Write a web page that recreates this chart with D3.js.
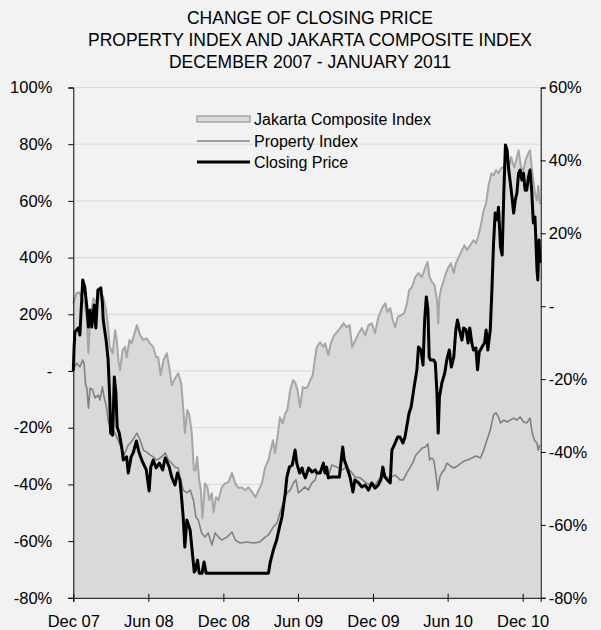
<!DOCTYPE html>
<html>
<head>
<meta charset="utf-8">
<script src="https://cdn.jsdelivr.net/npm/d3@7"></script>
<style>
  body { margin: 0; background: #f2f2f2; }
  svg { display: block; font-family: "Liberation Sans", Arial, sans-serif; }
</style>
</head>
<body>
<div id="chart"></div>
<script>
var titleLines = ["CHANGE OF CLOSING PRICE", "PROPERTY INDEX AND JAKARTA COMPOSITE INDEX", "DECEMBER 2007 - JANUARY 2011"];
var legendLabels = ["Jakarta Composite Index", "Property Index", "Closing Price"];
var leftTicks = [-80, -60, -40, -20, 0, 20, 40, 60, 80, 100];
var rightTicks = [-80, -60, -40, -20, 0, 20, 40, 60];
var dateTicks = ["2007-12-01", "2008-06-01", "2008-12-01", "2009-06-01", "2009-12-01", "2010-06-01", "2010-12-01"];

// Jakarta Composite Index, % change (right axis)
var jci = [
	["2007-12-01", 0.8], ["2007-12-09", 3.6], ["2007-12-15", 3.8], ["2007-12-21", 2.7], ["2007-12-29", 0.8],
	["2008-01-03", -3.8], ["2008-01-07", -12.9], ["2008-01-11", -3.8], ["2008-01-19", 2.2], ["2008-01-27", 0.8],
	["2008-02-04", 3.6], ["2008-02-12", 2.5], ["2008-02-19", -1.1], ["2008-02-24", -5.8], ["2008-02-28", -11.2],
	["2008-03-06", -12.9], ["2008-03-12", -6.6], ["2008-03-16", -9.3], ["2008-03-20", -14.8], ["2008-03-24", -17.6],
	["2008-03-30", -12.1], ["2008-04-05", -11.2], ["2008-04-09", -14.0], ["2008-04-16", -9.3], ["2008-04-21", -10.2],
	["2008-04-27", -8.0], ["2008-05-04", -5.2], ["2008-05-12", -8.0], ["2008-05-20", -9.3], ["2008-05-28", -8.8],
	["2008-06-05", -10.2], ["2008-06-13", -11.2], ["2008-06-20", -14.0], ["2008-06-25", -14.0], ["2008-07-01", -18.9],
	["2008-07-08", -14.8], ["2008-07-16", -12.9], ["2008-07-22", -16.7], ["2008-07-28", -21.7], ["2008-08-05", -19.8],
	["2008-08-13", -18.4], ["2008-08-20", -21.1], ["2008-08-25", -27.7], ["2008-08-29", -34.8], ["2008-09-04", -28.5],
	["2008-09-09", -29.9], ["2008-09-15", -34.8], ["2008-09-20", -45.0], ["2008-09-24", -45.0], ["2008-09-28", -41.4],
	["2008-10-03", -47.7], ["2008-10-07", -50.5], ["2008-10-11", -58.2], ["2008-10-17", -48.6], ["2008-10-23", -49.7],
	["2008-10-28", -53.2], ["2008-11-03", -51.3], ["2008-11-07", -56.5], ["2008-11-13", -52.4], ["2008-11-19", -53.2],
	["2008-11-27", -49.7], ["2008-12-05", -48.6], ["2008-12-13", -48.3], ["2008-12-22", -45.8], ["2008-12-30", -48.6],
	["2009-01-07", -49.9], ["2009-01-15", -49.7], ["2009-01-23", -50.5], ["2009-01-31", -49.7], ["2009-02-09", -51.0],
	["2009-02-17", -52.4], ["2009-02-25", -50.5], ["2009-03-05", -48.6], ["2009-03-13", -44.2], ["2009-03-21", -42.2],
	["2009-03-25", -40.1], ["2009-04-01", -36.8], ["2009-04-06", -40.3], ["2009-04-12", -35.9], ["2009-04-18", -30.5],
	["2009-04-25", -32.1], ["2009-05-01", -29.4], ["2009-05-06", -28.5], ["2009-05-13", -23.0], ["2009-05-20", -20.3],
	["2009-05-25", -20.9], ["2009-05-31", -23.0], ["2009-06-06", -27.7], ["2009-06-13", -22.2], ["2009-06-19", -22.5],
	["2009-06-24", -22.2], ["2009-07-01", -20.3], ["2009-07-07", -18.9], ["2009-07-13", -14.0], ["2009-07-17", -11.2],
	["2009-07-25", -9.9], ["2009-08-02", -11.2], ["2009-08-06", -10.2], ["2009-08-14", -13.4], ["2009-08-20", -10.2],
	["2009-08-28", -8.0], ["2009-09-04", -7.1], ["2009-09-12", -6.0], ["2009-09-20", -4.7], ["2009-09-28", -5.8],
	["2009-10-05", -5.2], ["2009-10-11", -11.2], ["2009-10-19", -9.3], ["2009-10-27", -7.4], ["2009-11-04", -6.0],
	["2009-11-12", -8.0], ["2009-11-20", -5.2], ["2009-11-28", -4.7], ["2009-12-06", -7.4], ["2009-12-14", -3.0],
	["2009-12-23", -0.5], ["2009-12-31", 0.8], ["2010-01-05", -1.6], ["2010-01-12", -0.5], ["2010-01-18", -3.8],
	["2010-01-24", -5.8], ["2010-01-30", -3.0], ["2010-02-07", -2.5], ["2010-02-15", -1.9], ["2010-02-22", 0.8],
	["2010-02-27", 4.4], ["2010-03-06", 5.2], ["2010-03-14", 8.0], ["2010-03-22", 9.1], ["2010-03-30", 8.0],
	["2010-04-08", 10.7], ["2010-04-13", 12.1], ["2010-04-18", 8.0], ["2010-04-24", 6.6], ["2010-04-30", 5.8],
	["2010-05-06", 1.6], ["2010-05-09", -4.7], ["2010-05-12", 2.5], ["2010-05-17", 5.2], ["2010-05-23", 7.1],
	["2010-05-28", 9.1], ["2010-06-03", 10.7], ["2010-06-09", 11.8], ["2010-06-16", 9.1], ["2010-06-21", 11.8],
	["2010-06-28", 13.4], ["2010-07-06", 15.4], ["2010-07-12", 16.7], ["2010-07-18", 15.4], ["2010-07-26", 16.7],
	["2010-08-03", 18.1], ["2010-08-09", 17.3], ["2010-08-14", 18.9], ["2010-08-20", 21.7], ["2010-08-28", 26.3],
	["2010-09-03", 28.3], ["2010-09-09", 33.2], ["2010-09-16", 36.5], ["2010-09-21", 35.9], ["2010-09-27", 37.3],
	["2010-10-03", 36.5], ["2010-10-10", 37.9], ["2010-10-15", 38.1], ["2010-10-21", 40.1], ["2010-10-27", 37.3],
	["2010-11-03", 40.9], ["2010-11-07", 39.2], ["2010-11-11", 38.1], ["2010-11-17", 40.9], ["2010-11-21", 42.8],
	["2010-11-27", 38.1], ["2010-12-03", 37.3], ["2010-12-08", 40.1], ["2010-12-15", 42.0], ["2010-12-19", 42.8],
	["2010-12-23", 38.1], ["2010-12-27", 34.6], ["2010-12-31", 31.0], ["2011-01-05", 29.0], ["2011-01-08", 33.0],
	["2011-01-12", 28.0]
];

// Property Index, % change (left axis)
var property = [
	["2007-12-01", 0.4], ["2007-12-09", 2.8], ["2007-12-17", 1.4], ["2007-12-24", 3.9], ["2007-12-27", 2.8],
	["2007-12-31", -4.9], ["2008-01-03", -6.0], ["2008-01-07", -13.1], ["2008-01-11", -6.0], ["2008-01-17", -6.7],
	["2008-01-23", -9.5], ["2008-01-31", -8.5], ["2008-02-04", -10.2], ["2008-02-10", -5.6], ["2008-02-14", -9.2],
	["2008-02-20", -12.7], ["2008-02-24", -17.3], ["2008-02-28", -20.1], ["2008-03-07", -20.8], ["2008-03-14", -22.6],
	["2008-03-24", -26.1], ["2008-04-03", -29.6], ["2008-04-13", -26.1], ["2008-04-21", -25.0], ["2008-05-04", -21.9],
	["2008-05-12", -24.3], ["2008-05-20", -27.9], ["2008-05-28", -28.6], ["2008-06-05", -29.6], ["2008-06-13", -30.3],
	["2008-06-21", -31.4], ["2008-06-30", -30.7], ["2008-07-08", -29.6], ["2008-07-12", -28.9], ["2008-07-20", -31.4],
	["2008-07-28", -32.5], ["2008-08-05", -33.9], ["2008-08-13", -34.2], ["2008-08-17", -37.4], ["2008-08-25", -42.0],
	["2008-09-03", -43.0], ["2008-09-11", -42.0], ["2008-09-19", -45.5], ["2008-09-25", -51.5], ["2008-10-01", -52.6],
	["2008-10-09", -57.1], ["2008-10-17", -58.6], ["2008-10-25", -57.1], ["2008-11-03", -61.4], ["2008-11-11", -57.1],
	["2008-11-19", -58.6], ["2008-11-27", -59.6], ["2008-12-10", -58.6], ["2008-12-22", -56.8], ["2008-12-30", -59.6],
	["2009-01-11", -60.7], ["2009-01-27", -60.3], ["2009-02-13", -60.7], ["2009-02-28", -60.3], ["2009-03-13", -58.6],
	["2009-03-21", -57.8], ["2009-04-02", -55.0], ["2009-04-11", -53.6], ["2009-04-18", -50.1], ["2009-04-26", -46.6],
	["2009-05-05", -43.0], ["2009-05-13", -42.0], ["2009-05-21", -39.5], ["2009-05-27", -38.4], ["2009-06-02", -43.0],
	["2009-06-10", -42.0], ["2009-06-18", -40.9], ["2009-06-26", -42.0], ["2009-07-05", -39.5], ["2009-07-13", -38.4],
	["2009-07-17", -36.0], ["2009-08-02", -34.9], ["2009-08-14", -37.4], ["2009-08-22", -33.2], ["2009-09-04", -33.9],
	["2009-09-16", -34.9], ["2009-09-28", -33.9], ["2009-10-11", -36.0], ["2009-10-18", -37.4], ["2009-10-31", -37.7],
	["2009-11-12", -39.2], ["2009-11-24", -40.2], ["2009-12-06", -40.2], ["2009-12-18", -37.7], ["2009-12-30", -37.4],
	["2010-01-12", -37.7], ["2010-01-24", -36.7], ["2010-02-05", -38.4], ["2010-02-13", -38.4], ["2010-02-21", -36.0],
	["2010-03-02", -33.9], ["2010-03-09", -32.1], ["2010-03-14", -30.0], ["2010-03-22", -28.6], ["2010-03-31", -27.2],
	["2010-04-08", -26.8], ["2010-04-14", -25.7], ["2010-04-18", -31.4], ["2010-04-23", -30.7], ["2010-04-28", -31.4],
	["2010-05-02", -34.9], ["2010-05-08", -42.0], ["2010-05-13", -37.4], ["2010-05-19", -35.6], ["2010-05-24", -34.9],
	["2010-05-30", -32.5], ["2010-06-08", -33.5], ["2010-06-16", -34.2], ["2010-06-25", -33.5], ["2010-07-04", -32.5],
	["2010-07-12", -31.7], ["2010-07-20", -31.4], ["2010-07-30", -30.7], ["2010-08-10", -30.0], ["2010-08-20", -30.7],
	["2010-08-28", -27.9], ["2010-09-05", -24.3], ["2010-09-13", -20.8], ["2010-09-21", -15.5], ["2010-09-27", -14.8],
	["2010-10-03", -16.2], ["2010-10-08", -18.3], ["2010-10-16", -17.3], ["2010-10-24", -18.0], ["2010-11-01", -17.3],
	["2010-11-09", -16.6], ["2010-11-17", -17.3], ["2010-11-25", -16.2], ["2010-12-03", -18.0], ["2010-12-11", -18.3],
	["2010-12-19", -16.6], ["2010-12-23", -20.8], ["2010-12-27", -23.3], ["2010-12-31", -24.7], ["2011-01-05", -25.4],
	["2011-01-08", -27.9], ["2011-01-12", -26.1]
];

// Closing price, % change (left axis)
var closing = [
	["2007-12-01", 0], ["2007-12-03", 8.5], ["2007-12-05", 13.8], ["2007-12-13", 15.2], ["2007-12-17", 12.7],
	["2007-12-24", 32.1], ["2007-12-29", 29.6], ["2008-01-03", 22.6], ["2008-01-07", 15.5], ["2008-01-11", 21.5],
	["2008-01-15", 15.5], ["2008-01-21", 23.3], ["2008-01-25", 15.2], ["2008-01-30", 28.6], ["2008-02-06", 29.3],
	["2008-02-10", 24.0], ["2008-02-12", 18.0], ["2008-02-19", 10.9], ["2008-02-24", 3.9], ["2008-02-28", -10.2],
	["2008-03-01", -21.9], ["2008-03-06", -22.6], ["2008-03-10", -2.1], ["2008-03-14", -7.8], ["2008-03-17", -19.8],
	["2008-03-22", -21.9], ["2008-03-28", -26.8], ["2008-04-01", -31.4], ["2008-04-09", -30.3], ["2008-04-13", -36.0],
	["2008-04-20", -30.3], ["2008-04-25", -28.9], ["2008-05-03", -24.7], ["2008-05-09", -28.6], ["2008-05-16", -31.4],
	["2008-05-27", -34.9], ["2008-06-03", -42.3], ["2008-06-07", -33.9], ["2008-06-13", -31.4], ["2008-06-20", -34.2],
	["2008-06-28", -32.5], ["2008-07-06", -34.9], ["2008-07-12", -30.7], ["2008-07-17", -32.1], ["2008-07-22", -33.9],
	["2008-07-28", -37.4], ["2008-08-05", -40.2], ["2008-08-11", -36.0], ["2008-08-17", -38.4], ["2008-08-21", -44.4],
	["2008-08-25", -51.5], ["2008-08-29", -62.1], ["2008-09-03", -52.6], ["2008-09-11", -56.1], ["2008-09-15", -62.1],
	["2008-09-21", -70.9], ["2008-09-24", -70.2], ["2008-09-29", -66.7], ["2008-10-03", -71.3], ["2008-10-10", -71.3],
	["2008-10-15", -67.4], ["2008-10-20", -71.3], ["2009-03-21", -71.3], ["2009-03-25", -67.7], ["2009-04-02", -63.1],
	["2009-04-10", -59.6], ["2009-04-17", -55.0], ["2009-04-23", -51.5], ["2009-05-01", -43.0], ["2009-05-05", -37.4],
	["2009-05-11", -33.9], ["2009-05-18", -33.2], ["2009-05-25", -27.9], ["2009-05-29", -32.5], ["2009-06-05", -36.0],
	["2009-06-11", -34.2], ["2009-06-14", -36.0], ["2009-06-19", -37.7], ["2009-06-27", -34.2], ["2009-07-05", -35.6],
	["2009-07-13", -34.9], ["2009-07-17", -36.0], ["2009-07-25", -36.0], ["2009-08-02", -32.5], ["2009-08-06", -36.0],
	["2009-08-10", -33.9], ["2009-08-14", -37.7], ["2009-08-23", -37.4], ["2009-08-30", -37.4], ["2009-09-10", -37.4],
	["2009-09-18", -26.8], ["2009-09-22", -31.4], ["2009-09-28", -33.9], ["2009-10-06", -37.4], ["2009-10-13", -42.7],
	["2009-10-18", -38.4], ["2009-10-27", -39.5], ["2009-11-04", -40.9], ["2009-11-12", -40.2], ["2009-11-20", -42.0],
	["2009-11-28", -39.5], ["2009-12-06", -41.3], ["2009-12-14", -40.2], ["2009-12-20", -38.4], ["2009-12-25", -33.9],
	["2009-12-30", -37.4], ["2010-01-05", -38.4], ["2010-01-12", -39.5], ["2010-01-16", -27.9], ["2010-01-24", -25.4],
	["2010-01-30", -23.3], ["2010-02-05", -23.3], ["2010-02-12", -25.4], ["2010-02-17", -23.3], ["2010-02-21", -19.8],
	["2010-02-27", -14.8], ["2010-03-04", -12.7], ["2010-03-09", -7.8], ["2010-03-14", -3.2], ["2010-03-18", 0.4],
	["2010-03-22", 8.5], ["2010-03-28", 7.4], ["2010-04-02", 2.1], ["2010-04-06", 18.0], ["2010-04-10", 26.1],
	["2010-04-14", 21.5], ["2010-04-17", 4.9], ["2010-04-20", 3.9], ["2010-04-28", 3.9], ["2010-05-02", 2.8],
	["2010-05-06", -7.8], ["2010-05-09", -21.9], ["2010-05-12", -9.2], ["2010-05-18", -4.2], ["2010-05-25", -0.7],
	["2010-05-30", 3.9], ["2010-06-05", 7.4], ["2010-06-10", 1.4], ["2010-06-16", 4.9], ["2010-06-21", 14.5],
	["2010-06-25", 18.0], ["2010-06-30", 14.5], ["2010-07-06", 10.9], ["2010-07-10", 15.2], ["2010-07-16", 14.5],
	["2010-07-21", 9.9], ["2010-07-25", 15.2], ["2010-07-30", 9.9], ["2010-08-03", 7.4], ["2010-08-09", 8.1],
	["2010-08-13", 0.4], ["2010-08-17", 6.7], ["2010-08-24", 8.5], ["2010-08-30", 9.9], ["2010-09-03", 14.5],
	["2010-09-07", 7.4], ["2010-09-13", 14.5], ["2010-09-17", 28.6], ["2010-09-21", 45.1], ["2010-09-25", 55.7],
	["2010-09-30", 53.3], ["2010-10-03", 57.8], ["2010-10-08", 43.7], ["2010-10-12", 40.9], ["2010-10-16", 62.8],
	["2010-10-20", 79.7], ["2010-10-24", 78.0], ["2010-10-28", 70.9], ["2010-11-01", 66.3], ["2010-11-05", 61.4],
	["2010-11-09", 55.7], ["2010-11-13", 60.3], ["2010-11-17", 62.8], ["2010-11-21", 69.8], ["2010-11-25", 70.9],
	["2010-11-29", 67.4], ["2010-12-03", 69.8], ["2010-12-07", 63.8], ["2010-12-11", 63.8], ["2010-12-15", 68.4],
	["2010-12-19", 70.9], ["2010-12-23", 63.8], ["2010-12-27", 52.2], ["2010-12-31", 54.3], ["2011-01-05", 35.6],
	["2011-01-07", 32.1], ["2011-01-10", 46.2], ["2011-01-12", 38.1]
];

var width = 601,
	height = 630,
	plot = {left: 73.3, right: 540.7, top: 87.5, bottom: 597.8};

var parseDate = d3.timeParse("%Y-%m-%d");
var fmtDate = d3.timeFormat("%b %y");

var xScale = d3.scaleTime()
	.domain([parseDate("2007-12-01"), parseDate("2011-01-14")])
	.range([plot.left, plot.right]);
var leftScale = d3.scaleLinear().domain([-80, 100]).range([plot.bottom, plot.top]);
var rightScale = d3.scaleLinear().domain([-80, 60]).range([plot.bottom, plot.top]);

function pct(v) { return v === 0 ? "-" : v + "%"; }

var svg = d3.select("#chart")
	.append("svg")
	.attr("width", width)
	.attr("height", height);

svg.append("rect")
	.attr("width", width)
	.attr("height", height)
	.attr("fill", "#f2f2f2");

// title
svg.selectAll(".title")
	.data(titleLines)
	.enter()
	.append("text")
	.attr("class", "title")
	.attr("x", 310)
	.attr("y", function(d, i) { return 24 + i * 22; })
	.attr("text-anchor", "middle")
	.style("font-size", "17.5px")
	.attr("fill", "#000")
	.text(function(d) { return d; });

// gridlines
svg.append("g")
	.selectAll("line")
	.data(leftTicks.filter(function(d) { return d > -80; }))
	.enter()
	.append("line")
	.attr("x1", plot.left)
	.attr("x2", plot.right)
	.attr("y1", function(d) { return leftScale(d); })
	.attr("y2", function(d) { return leftScale(d); })
	.attr("stroke", "#d9d9d9")
	.attr("stroke-width", 1);

var jciData = jci.map(function(d) { return {date: parseDate(d[0]), value: d[1]}; });
var propData = property.map(function(d) { return {date: parseDate(d[0]), value: d[1]}; });
var closeData = closing.map(function(d) { return {date: parseDate(d[0]), value: d[1]}; });

var jciArea = d3.area()
	.x(function(d) { return xScale(d.date); })
	.y0(plot.bottom)
	.y1(function(d) { return rightScale(d.value); });
var jciLine = d3.line()
	.x(function(d) { return xScale(d.date); })
	.y(function(d) { return rightScale(d.value); });
var leftLine = d3.line()
	.x(function(d) { return xScale(d.date); })
	.y(function(d) { return leftScale(d.value); });

svg.append("path")
	.datum(jciData)
	.attr("d", jciArea)
	.attr("fill", "#d9d9d9");

svg.append("path")
	.datum(jciData)
	.attr("d", jciLine)
	.attr("fill", "none")
	.attr("stroke", "#a6a6a6")
	.attr("stroke-width", 2)
	.attr("stroke-linejoin", "round");

svg.append("path")
	.datum(propData)
	.attr("d", leftLine)
	.attr("fill", "none")
	.attr("stroke", "#808080")
	.attr("stroke-width", 1.6)
	.attr("stroke-linejoin", "round");

svg.append("path")
	.datum(closeData)
	.attr("d", leftLine)
	.attr("fill", "none")
	.attr("stroke", "#000")
	.attr("stroke-width", 3)
	.attr("stroke-linejoin", "round");

// axes
var leftAxis = svg.append("g")
	.attr("class", "axis")
	.attr("transform", "translate(" + plot.left + ",0)")
	.call(d3.axisLeft(leftScale).tickValues(leftTicks).tickFormat(pct).tickSizeOuter(0).tickSize(5).tickPadding(16));

var rightAxis = svg.append("g")
	.attr("class", "axis")
	.attr("transform", "translate(" + plot.right + ",0)")
	.call(d3.axisRight(rightScale).tickValues(rightTicks).tickFormat(pct).tickSizeOuter(0).tickSize(5).tickPadding(3));

var bottomAxis = svg.append("g")
	.attr("class", "axis")
	.attr("transform", "translate(0," + plot.bottom + ")")
	.call(d3.axisBottom(xScale).tickValues(dateTicks.map(parseDate)).tickFormat(fmtDate).tickSizeOuter(0).tickSize(4).tickPadding(13));

bottomAxis.selectAll(".tick line").attr("y1", -4);

svg.selectAll(".axis .domain").attr("stroke", "#000").attr("stroke-width", 1);
svg.selectAll(".axis .tick line").attr("stroke", "#000");
svg.selectAll(".axis text")
	.style("font-size", "16.5px")
	.style("font-family", "'Liberation Sans', Arial, sans-serif")
	.attr("fill", "#000");

// legend
var legend = svg.append("g").attr("transform", "translate(197,0)");
var legendY = [119, 141, 162];

legend.append("rect")
	.attr("x", 0)
	.attr("y", legendY[0] - 3)
	.attr("width", 53)
	.attr("height", 6)
	.attr("fill", "#d9d9d9")
	.attr("stroke", "#a6a6a6")
	.attr("stroke-width", 1.5);

legend.append("line")
	.attr("x1", 0).attr("x2", 53)
	.attr("y1", legendY[1]).attr("y2", legendY[1])
	.attr("stroke", "#808080")
	.attr("stroke-width", 1.6);

legend.append("line")
	.attr("x1", 0).attr("x2", 53)
	.attr("y1", legendY[2]).attr("y2", legendY[2])
	.attr("stroke", "#000")
	.attr("stroke-width", 3);

legend.selectAll(".legend-label")
	.data(legendLabels)
	.enter()
	.append("text")
	.attr("class", "legend-label")
	.attr("x", 57)
	.attr("y", function(d, i) { return legendY[i] + 6; })
	.style("font-size", "16px")
	.attr("fill", "#000")
	.text(function(d) { return d; });
</script>
</body>
</html>
